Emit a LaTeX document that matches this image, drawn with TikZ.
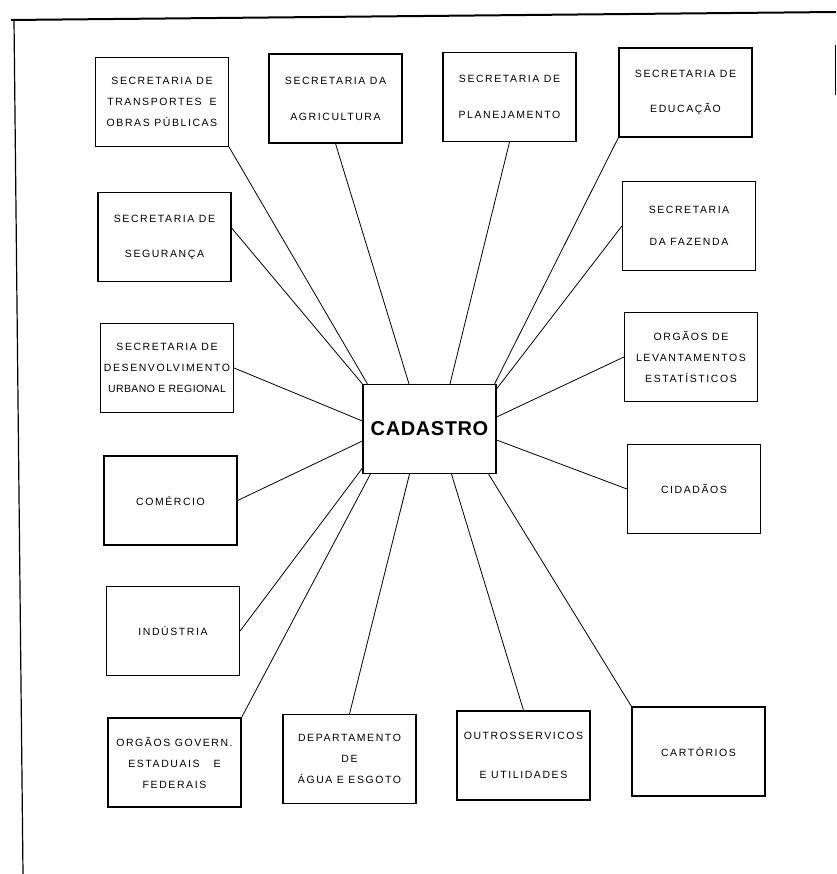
\documentclass[tikz,border=0pt]{standalone}
\usepackage{fontspec}
\setmainfont{Liberation Sans}
\newfontfamily\boxfont{Liberation Sans}[LetterSpace=15]
\newfontfamily\cadfont{Liberation Sans}[LetterSpace=3]
\newfontfamily\tightfont{Liberation Sans}[LetterSpace=4]
\usepackage{tikz}
\tikzset{every node/.append style={execute at begin node={\hyphenpenalty=10000\exhyphenpenalty=10000\relax}}}

\begin{document}
\begin{tikzpicture}[x=1pt,y=-1pt,
  b/.style={draw,line width=1.2pt,align=center,minimum width=133pt,minimum height=89pt,inner sep=1pt,font=\boxfont\fontsize{10.5}{21}\selectfont},
  c/.style={b,font=\cadfont\bfseries\fontsize{20}{24}\selectfont},
  l/.style={line width=0.8pt}]
  \useasboundingbox (0,0) rectangle (836,874);
  \draw[line width=2pt](11,20)--(836,12);\draw[line width=1.2pt](14,20)--(23,874);\draw[line width=1pt](835,45)--(835,95);
  \node[b](transp) at (162,102){SECRETARIA DE\\TRANSPORTES\hspace{8pt}E\\OBRAS PÚBLICAS};
  \node[b](agri) at (335.5,98.5){SECRETARIA DA\\[15pt]AGRICULTURA};
  \node[b](plan) at (509.5,97){SECRETARIA DE\\[15pt]PLANEJAMENTO};
  \node[b](educ) at (685.5,92.5){SECRETARIA DE\\[14pt]EDUCAÇÃO};
  \node[b](segur) at (164.5,237){SECRETARIA DE\\[14pt]SEGURANÇA};
  \node[b](fazen) at (689,226){SECRETARIA\\[11pt]DA FAZENDA};
  \node[b](desenv) at (167,368){SECRETARIA DE\\DESENVOLVIMENTO\\{\tightfont URBANO E REGIONAL}};
  \node[b](levant) at (691,357){ORGÃOS DE\\LEVANTAMENTOS\\ESTATÍSTICOS};
  \node[c](cad) at (429.5,429){CADASTRO};
  \node[b](comerc) at (170.5,500.5){COMÉRCIO};\node[b](cidad) at (694,489){CIDADÃOS};
  \node[b](indus) at (173,631){INDÚSTRIA};
  \node[b](govern) at (174.5,762.5){ORGÃOS GOVERN.\\ESTADUAIS\hspace{14pt}E\\FEDERAIS};
  \node[b](depart) at (349.5,759){DEPARTAMENTO\\DE\\ÁGUA E ESGOTO};
  \node[b](outros) at (523.5,755.5){OUTROSSERVICOS\\[18pt]E UTILIDADES};
  \node[b](cartor) at (698.5,751.5){CARTÓRIOS};
  \draw[l](transp.south east)--([xshift=5pt]cad.north west);\draw[l]([yshift=9pt]segur.east)--(cad.north west);
  \draw[l](agri.south)--([xshift=-20.5pt]cad.north);\draw[l](plan.south)--([xshift=20.5pt]cad.north);
  \draw[l](educ.south west)--([xshift=-2pt]cad.north east);\draw[l](fazen.west)--([yshift=-5pt]cad.north east);
  \draw[l](desenv.east)--([yshift=8pt]cad.west);\draw[l](comerc.east)--([yshift=-12pt]cad.west);
  \draw[l](levant.west)--([yshift=12pt]cad.east);\draw[l](cidad.west)--([yshift=-11pt]cad.east);
  \draw[l](indus.east)--([yshift=6pt]cad.south west);\draw[l](govern.north east)--([xshift=8pt]cad.south west);
  \draw[l](depart.north)--([xshift=-20pt]cad.south);\draw[l](outros.north)--([xshift=22pt]cad.south);
  \draw[l](cartor.north west)--([xshift=-8pt]cad.south east);
\end{tikzpicture}
\end{document}
